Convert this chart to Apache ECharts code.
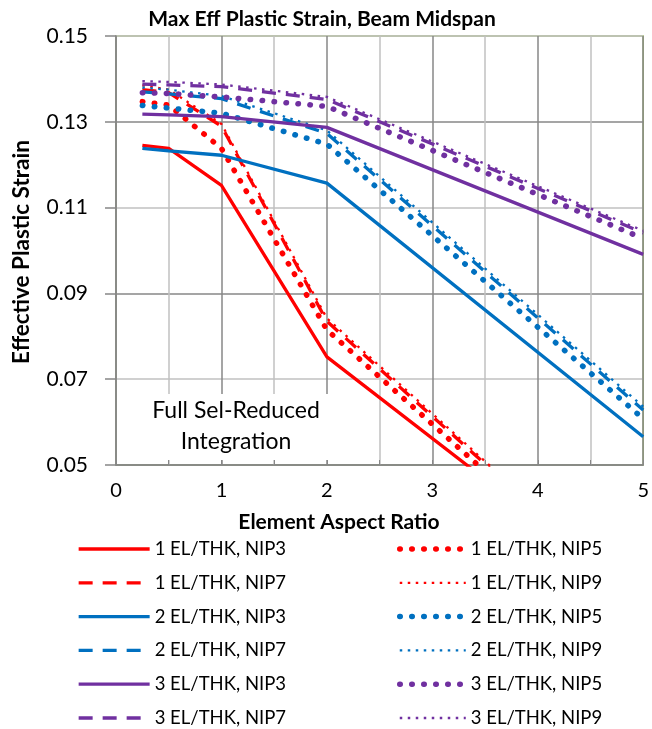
<!DOCTYPE html>
<html>
<head>
<meta charset="utf-8">
<script src="https://cdn.jsdelivr.net/npm/echarts@6/dist/echarts.min.js"></script>
<style>html,body{margin:0;padding:0;background:#fff}#c{width:652px;height:729px}</style>
</head>
<body>
<div id="c"></div>
<script>
const aspectRatios = [0.25, 0.5, 1, 2, 5];
const el1_nip3 = [0.1245, 0.1238, 0.1152, 0.0752, 0.0182];
const el1_nip5 = [0.1347, 0.1339, 0.1238, 0.0815, 0.0155];
const el1_nip7 = [0.1375, 0.1368, 0.1290, 0.0835, 0.0170];
const el1_nip9 = [0.1385, 0.1375, 0.1295, 0.0842, 0.0175];
const el2_nip3 = [0.1238, 0.1232, 0.1222, 0.1157, 0.0566];
const el2_nip5 = [0.1338, 0.1332, 0.1320, 0.1248, 0.0608];
const el2_nip7 = [0.1370, 0.1365, 0.1354, 0.1273, 0.0628];
const el2_nip9 = [0.1380, 0.1375, 0.1360, 0.1280, 0.0636];
const el3_nip3 = [0.1318, 0.1316, 0.1312, 0.1287, 0.0991];
const el3_nip5 = [0.1368, 0.1366, 0.1358, 0.1336, 0.1028];
const el3_nip7 = [0.1388, 0.1386, 0.1382, 0.1352, 0.1041];
const el3_nip9 = [0.1395, 0.1393, 0.1387, 0.1358, 0.1046];
const yTickLabels = [0.05, 0.07, 0.09, 0.11, 0.13, 0.15];
const xTickLabels = [0, 1, 2, 3, 4, 5];

const RED = '#FF0000', BLUE = '#0070C0', PURPLE = '#7030A0';
const FONT = 'Lato';

const styles = {
  nip3: {width: 3.3, type: 'solid', cap: 'butt'},
  nip5: {width: 5.5, type: [0.5, 11.5], cap: 'round'},
  nip7: {width: 3.3, type: [14, 10], cap: 'butt'},
  nip9: {width: 2.3, type: [2.5, 5.5], cap: 'butt'}
};

function mk(name, vals, color, st) {
  return {
    name: name,
    type: 'line',
    data: aspectRatios.map((x, i) => [x, vals[i]]),
    symbol: 'none',
    clip: true,
    lineStyle: {color: color, width: st.width, type: st.type, cap: st.cap},
    itemStyle: {color: color},
    emphasis: {disabled: true},
    animation: false
  };
}

const series = [
  mk('1 EL/THK, NIP3', el1_nip3, RED, styles.nip3),
  mk('1 EL/THK, NIP5', el1_nip5, RED, styles.nip5),
  mk('1 EL/THK, NIP7', el1_nip7, RED, styles.nip7),
  mk('1 EL/THK, NIP9', el1_nip9, RED, styles.nip9),
  mk('2 EL/THK, NIP3', el2_nip3, BLUE, styles.nip3),
  mk('2 EL/THK, NIP5', el2_nip5, BLUE, styles.nip5),
  mk('2 EL/THK, NIP7', el2_nip7, BLUE, styles.nip7),
  mk('2 EL/THK, NIP9', el2_nip9, BLUE, styles.nip9),
  mk('3 EL/THK, NIP3', el3_nip3, PURPLE, styles.nip3),
  mk('3 EL/THK, NIP5', el3_nip5, PURPLE, styles.nip5),
  mk('3 EL/THK, NIP7', el3_nip7, PURPLE, styles.nip7),
  mk('3 EL/THK, NIP9', el3_nip9, PURPLE, styles.nip9)
];

const DARK = '#878787', LIGHT = '#C0C0C0';
const legendText = {fontFamily: FONT, fontSize: 18.5, lineHeight: 20, color: '#000'};
const legendCommon = {
  orient: 'vertical', top: 539, padding: 0, height: 200,
  itemHeight: 14, itemGap: 13.8,
  textStyle: legendText, selectedMode: false,
  itemStyle: {opacity: 0},
  lineStyle: {width: 'inherit', type: 'inherit', cap: 'inherit'}
};

const chart = echarts.init(document.getElementById('c'), null, {renderer: 'canvas'});
chart.setOption({
  animation: false,
  backgroundColor: '#fff',
  title: {
    text: 'Max Eff Plastic Strain, Beam Midspan',
    left: 317, top: 4, textAlign: 'center',
    textStyle: {fontFamily: FONT, fontSize: 21, fontWeight: 'bold', color: '#000'}
  },
  grid: {left: 116, right: 6, top: 36, bottom: 264, show: true, borderColor: '#9BBB59', borderWidth: 1.5, backgroundColor: 'transparent'},
  xAxis: {
    type: 'value', min: 0, max: 5, interval: 0.5,
    axisLine: {lineStyle: {color: DARK, width: 1.5}},
    axisTick: {show: true, inside: true, length: 5, lineStyle: {color: DARK}},
    axisLabel: {
      fontFamily: FONT, fontSize: 20, color: '#000', margin: 16,
      formatter: v => (xTickLabels.indexOf(v) >= 0 ? String(v) : '')
    },
    splitLine: {show: true, lineStyle: {color: [DARK, LIGHT], width: 1.5}}
  },
  yAxis: {
    type: 'value', min: 0.05, max: 0.15, interval: 0.01,
    axisLine: {show: true, lineStyle: {color: DARK, width: 1.5}},
    axisTick: {show: true, length: 11, lineStyle: {color: DARK, width: 1.5}, customValues: yTickLabels},
    axisLabel: {
      fontFamily: FONT, fontSize: 21, color: '#000', margin: 28,
      formatter: v => {
        const k = Math.round(v * 100);
        return (k % 2 === 1) ? v.toFixed(2) : '';
      }
    },
    splitLine: {show: true, lineStyle: {color: [DARK, LIGHT], width: 1.5}}
  },
  legend: [
    Object.assign({}, legendCommon, {
      data: series.filter((s, i) => i % 2 === 0).map(s => s.name),
      left: 77, itemWidth: 71
    }),
    Object.assign({}, legendCommon, {
      data: series.filter((s, i) => i % 2 === 1).map(s => s.name),
      left: 397, itemWidth: 66
    })
  ],
  graphic: [
    {
      type: 'rect', z: 1,
      shape: {x: 135, y: 394, width: 207, height: 66},
      style: {fill: '#fff'}
    },
    {
      type: 'text', z: 2, x: 236, y: 426,
      style: {text: 'Full Sel-Reduced\nIntegration', align: 'center', verticalAlign: 'middle', font: '23px ' + FONT, fill: '#000', lineHeight: 31}
    },
    {
      type: 'text', x: 339, y: 522,
      style: {text: 'Element Aspect Ratio', align: 'center', verticalAlign: 'middle', font: 'bold 21px ' + FONT, fill: '#000'}
    },
    {
      type: 'text', x: 22, y: 252, rotation: Math.PI / 2,
      style: {text: 'Effective Plastic Strain', align: 'center', verticalAlign: 'middle', font: 'bold 22.5px ' + FONT, fill: '#000'}
    }
  ],
  series: series
});
</script>
</body>
</html>
